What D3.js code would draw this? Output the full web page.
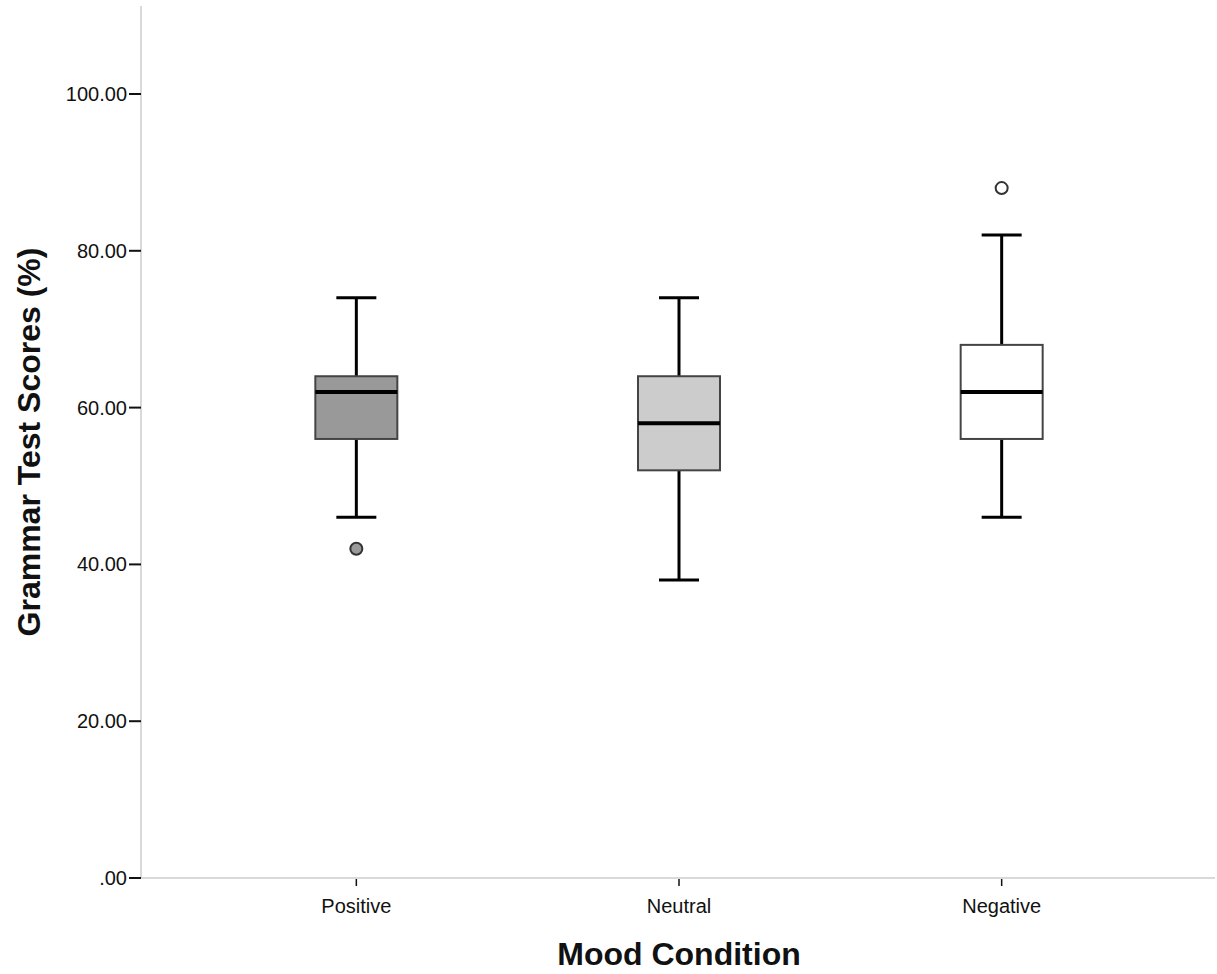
<!DOCTYPE html>
<html lang="en">
<head>
<meta charset="utf-8">
<title>Grammar Test Scores by Mood Condition</title>
<script src="https://cdn.jsdelivr.net/npm/d3@7"></script>
<style>
    body { margin: 0; background: #fff; }
    text { font-family: "Liberation Sans", Arial, sans-serif; fill: #111; }
</style>
</head>
<body>
<script>
var w = 1217, h = 974;

// data
var categories = ["Positive", "Neutral", "Negative"];
var whiskerLow = [46, 38, 46];
var q1 = [56, 52, 56];
var median = [62, 58, 62];
var q3 = [64, 64, 68];
var whiskerHigh = [74, 74, 82];
var outliers = [[42], [], [88]];
var boxFill = ["#999999", "#cccccc", "#ffffff"];
var yTicks = [0, 20, 40, 60, 80, 100];

var boxes = categories.map(function (c, i) {
    return { cat: c, lo: whiskerLow[i], q1: q1[i], med: median[i], q3: q3[i], hi: whiskerHigh[i], out: outliers[i], fill: boxFill[i] };
});

var left = 141, bottom = 878;

var x = d3.scaleBand().domain(categories).range([195, 1163]);
var y = d3.scaleLinear().domain([0, 100]).range([bottom, 94]);

var svg = d3.select("body").append("svg").attr("width", w).attr("height", h);

// axis lines (light gray)
svg.append("line").attr("x1", left).attr("x2", left).attr("y1", 6).attr("y2", bottom)
   .attr("stroke", "#d9d9d9").attr("stroke-width", 2);
svg.append("line").attr("x1", left).attr("x2", 1215).attr("y1", bottom).attr("y2", bottom)
   .attr("stroke", "#d9d9d9").attr("stroke-width", 2);

// y ticks
var yAxis = svg.append("g");
yAxis.selectAll("line").data(yTicks).enter().append("line")
     .attr("x1", left - 12).attr("x2", left)
     .attr("y1", function (d) { return y(d); }).attr("y2", function (d) { return y(d); })
     .attr("stroke", "#111").attr("stroke-width", 2);
yAxis.selectAll("text").data(yTicks).enter().append("text")
     .attr("x", left - 14).attr("y", function (d) { return y(d); })
     .attr("dy", "0.35em").attr("text-anchor", "end").attr("font-size", "20px")
     .text(function (d) { return d === 0 ? ".00" : d.toFixed(2); });

// x ticks
var xAxis = svg.append("g");
xAxis.selectAll("line").data(categories).enter().append("line")
     .attr("x1", function (d) { return x(d) + x.bandwidth() / 2; })
     .attr("x2", function (d) { return x(d) + x.bandwidth() / 2; })
     .attr("y1", bottom + 1).attr("y2", bottom + 8)
     .attr("stroke", "#111").attr("stroke-width", 1.5);
xAxis.selectAll("text").data(categories).enter().append("text")
     .attr("x", function (d) { return x(d) + x.bandwidth() / 2; })
     .attr("y", bottom + 35).attr("text-anchor", "middle").attr("font-size", "20px")
     .text(function (d) { return d; });

// boxes
var bw = 82, cap = 20;
var g = svg.selectAll(".box").data(boxes).enter().append("g").attr("class", "box")
           .attr("transform", function (d) { return "translate(" + (x(d.cat) + x.bandwidth() / 2) + ",0)"; });

g.append("line").attr("x1", 0).attr("x2", 0)
 .attr("y1", function (d) { return y(d.hi); }).attr("y2", function (d) { return y(d.q3); })
 .attr("stroke", "#000").attr("stroke-width", 3);
g.append("line").attr("x1", 0).attr("x2", 0)
 .attr("y1", function (d) { return y(d.q1); }).attr("y2", function (d) { return y(d.lo); })
 .attr("stroke", "#000").attr("stroke-width", 3);
g.append("line").attr("x1", -cap).attr("x2", cap)
 .attr("y1", function (d) { return y(d.hi); }).attr("y2", function (d) { return y(d.hi); })
 .attr("stroke", "#000").attr("stroke-width", 3);
g.append("line").attr("x1", -cap).attr("x2", cap)
 .attr("y1", function (d) { return y(d.lo); }).attr("y2", function (d) { return y(d.lo); })
 .attr("stroke", "#000").attr("stroke-width", 3);

g.append("rect").attr("x", -bw / 2).attr("width", bw)
 .attr("y", function (d) { return y(d.q3); })
 .attr("height", function (d) { return y(d.q1) - y(d.q3); })
 .attr("fill", function (d) { return d.fill; })
 .attr("stroke", "#444").attr("stroke-width", 2);

g.append("line").attr("x1", -bw / 2).attr("x2", bw / 2)
 .attr("y1", function (d) { return y(d.med); }).attr("y2", function (d) { return y(d.med); })
 .attr("stroke", "#000").attr("stroke-width", 4);

g.selectAll("circle").data(function (d) { return d.out.map(function (v) { return { v: v, fill: d.fill }; }); })
 .enter().append("circle")
 .attr("cx", 0).attr("cy", function (d) { return y(d.v); }).attr("r", 6)
 .attr("fill", function (d) { return d.fill; })
 .attr("stroke", "#333").attr("stroke-width", 2);

// axis titles
svg.append("text").attr("x", x("Neutral") + x.bandwidth() / 2).attr("y", 965)
   .attr("text-anchor", "middle").attr("font-size", "32px").attr("font-weight", "bold")
   .text("Mood Condition");
svg.append("text").attr("transform", "translate(40," + 442 + ") rotate(-90)")
   .attr("text-anchor", "middle").attr("font-size", "32px").attr("font-weight", "bold")
   .text("Grammar Test Scores (%)");
</script>
</body>
</html>
